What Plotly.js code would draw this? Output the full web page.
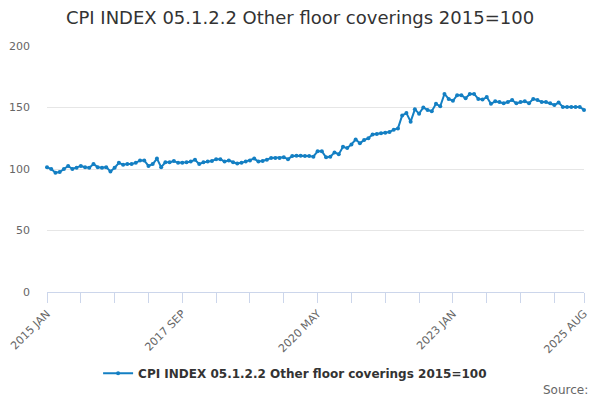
<!DOCTYPE html>
<html>
<head>
<meta charset="utf-8">
<script src="https://cdn.plot.ly/plotly-3.0.1.min.js"></script>
<style>html,body{margin:0;padding:0;background:#fff;}#chart{width:600px;height:400px;}</style>
</head>
<body>
<div id="chart"></div>
<script>
const monthNames = ["JAN","FEB","MAR","APR","MAY","JUN","JUL","AUG","SEP","OCT","NOV","DEC"];
const startYear = 2015;
const seriesName = "CPI INDEX 05.1.2.2 Other floor coverings 2015=100";
const values = [
  101.4, 100, 97, 97.5, 100, 102.5, 100, 101, 102.5, 101.5, 101, 104,
  101.5, 101, 101.5, 98, 101, 105, 103.5, 104, 104, 105, 107, 107,
  102.5, 104, 108.5, 101.5, 105.5, 105.5, 106.5, 105, 105, 105.5, 106, 107.5,
  104, 105.5, 106, 106.5, 108, 108, 106, 107, 105.5, 104.5, 105, 106,
  107, 108.5, 106, 106.5, 107.5, 109, 109, 109, 109.5, 108, 110.5, 110.8,
  110.8, 110.6, 110.6, 110, 114.5, 114.5, 109.5, 110, 113.5, 112, 118, 117,
  120, 124, 121, 123.5, 125, 128, 128.5, 129, 129.5, 130, 132, 133,
  143.5, 145.5, 138.5, 148.5, 145, 150, 148, 147, 153, 151, 161, 157,
  155.5, 160, 160, 157.5, 161, 161, 157, 156.5, 158.5, 153, 155, 154.5,
  153.5, 154.5, 156, 153.5, 154.5, 155, 153.5, 157, 156, 154.5, 154.5, 153.5,
  152, 154, 150.5, 150.5, 150.5, 150.5, 150.5, 148
];
const categories = values.map((v, i) => (startYear + Math.floor(i / 12)) + " " + monthNames[i % 12]);
const labeledIdx = [0, 32, 64, 96, 127];
const tickIdx = [0,8,16,24,32,40,48,56,64,72,80,88,96,104,112,120,127];
const yTicks = [0, 50, 100, 150, 200];

const trace = {
  x: categories, y: values, type: 'scatter', mode: 'lines+markers',
  name: seriesName,
  line: {color: '#137fc3', width: 2},
  marker: {color: '#137fc3', size: 4},
  cliponaxis: false
};
const layout = {
  width: 600, height: 400,
  margin: {l: 47, r: 16, t: 46, b: 108},
  paper_bgcolor: '#fff', plot_bgcolor: '#fff',
  font: {family: 'DejaVu Sans, sans-serif', color: '#666', size: 11},
  title: {text: 'CPI INDEX 05.1.2.2 Other floor coverings 2015=100', x: 0.5, xanchor: 'center', y: 0.955, yanchor: 'middle', font: {size: 18, color: '#333', family: 'DejaVu Sans, sans-serif'}},
  xaxis: {
    type: 'category', range: [0, 127],
    tickmode: 'array',
    tickvals: tickIdx.map(i => categories[i]),
    ticktext: tickIdx.map(i => labeledIdx.includes(i) ? categories[i] : ''),
    tickangle: -45, ticks: 'outside', ticklen: 10, tickcolor: '#ccd6eb', tickwidth: 1,
    showline: true, linecolor: '#ccd6eb', linewidth: 1,
    showgrid: false, zeroline: false,
    tickfont: {size: 11, color: '#666'}
  },
  yaxis: {
    range: [0, 200], tickvals: yTicks, ticktext: yTicks.map(String),
    showgrid: true, gridcolor: '#e6e6e6', gridwidth: 1, zeroline: false,
    showline: false, ticks: '', ticklen: 0, ticklabelstandoff: 16,
    tickfont: {size: 11, color: '#666'}
  },
  showlegend: true,
  legend: {orientation: 'h', x: 0.462, xanchor: 'center', y: -0.33, yanchor: 'middle', itemwidth: 30, font: {size: 12, color: '#333', family: 'DejaVu Sans, sans-serif', weight: 'bold'}},
  annotations: [{text: 'Source:', xref: 'paper', yref: 'paper', x: 1.012, y: -0.4, xanchor: 'right', yanchor: 'middle', showarrow: false, font: {size: 12, color: '#666'}}]
};
Plotly.newPlot('chart', [trace], layout, {displayModeBar: false, staticPlot: true});
</script>
</body>
</html>
